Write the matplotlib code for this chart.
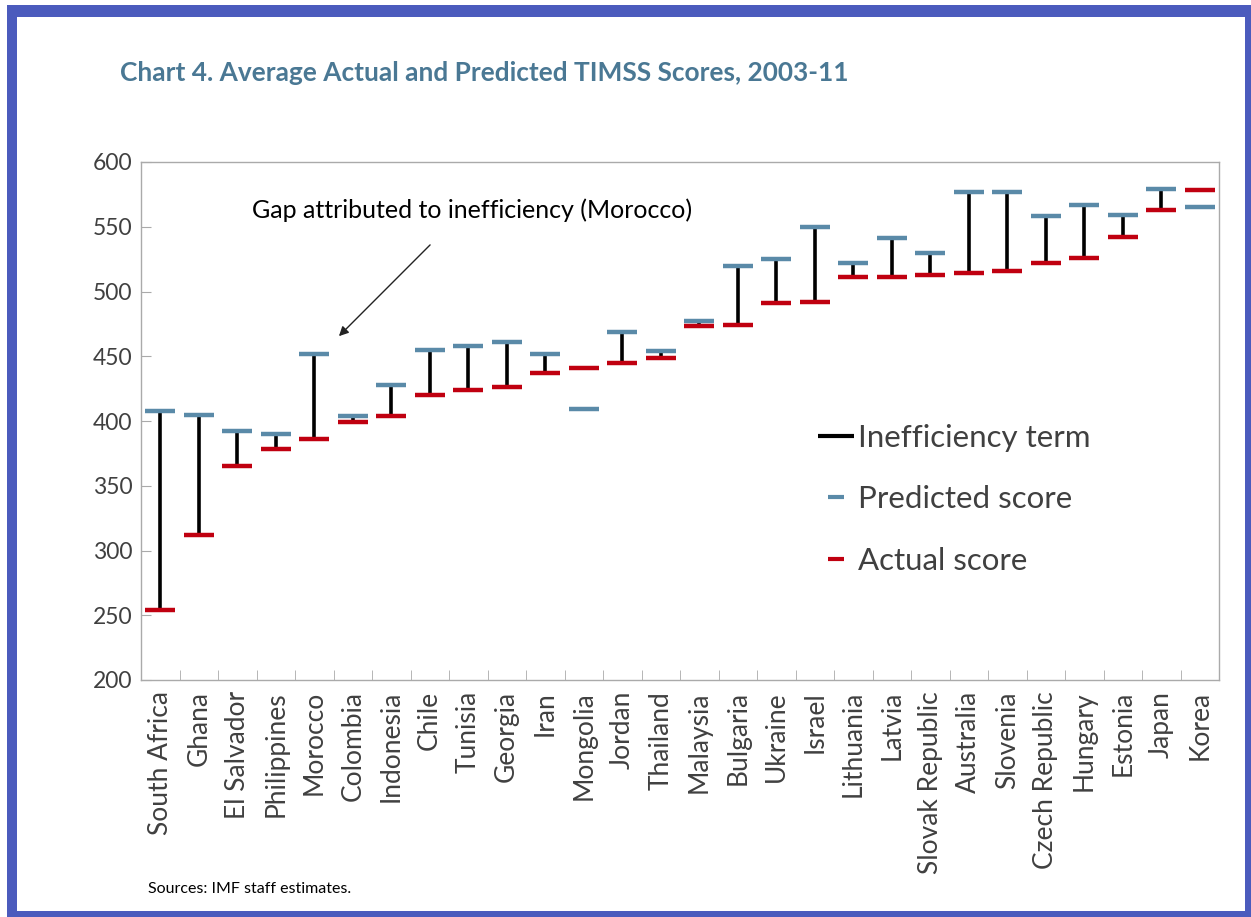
import matplotlib
matplotlib.use("Agg")
import matplotlib.pyplot as plt
from matplotlib.lines import Line2D
from matplotlib.patches import Rectangle
import numpy as np

countries = ["South Africa", "Ghana", "El Salvador", "Philippines", "Morocco",
             "Colombia", "Indonesia", "Chile", "Tunisia", "Georgia", "Iran",
             "Mongolia", "Jordan", "Thailand", "Malaysia", "Bulgaria", "Ukraine",
             "Israel", "Lithuania", "Latvia", "Slovak Republic", "Australia",
             "Slovenia", "Czech Republic", "Hungary", "Estonia", "Japan", "Korea"]
predicted = [408, 405, 392, 390, 452, 404, 428, 455, 458, 461, 452, 409, 469, 454,
             477, 520, 525, 550, 522, 541, 530, 577, 577, 558, 567, 559, 579, 565]
actual = [254, 312, 365, 378, 386, 399, 404, 420, 424, 426, 437, 441, 445, 449,
          473, 474, 491, 492, 511, 511, 513, 514, 516, 522, 526, 542, 563, 578]
yticks = [200, 250, 300, 350, 400, 450, 500, 550, 600]

BLUE = "#5a8aa8"
RED = "#c00010"
TXT = "#404040"

plt.rcParams["font.family"] = ["Lato", "DejaVu Sans"]

fig = plt.figure(figsize=(12.51, 9.17), dpi=100)
W, H = 1251, 917

# blue page border
fig.patches.append(Rectangle((7 / W, 0), 1 - 7 / W, 1 - 5 / H, transform=fig.transFigure,
                             facecolor="#4b5bbd", edgecolor="none", zorder=-10))
fig.patches.append(Rectangle((17 / W, 6 / H), (1245 - 17) / W, (911 - 17) / H,
                             transform=fig.transFigure, facecolor="white",
                             edgecolor="none", zorder=-9))

ax = fig.add_axes([141 / W, 1 - 680 / H, (1219 - 141) / W, (680 - 162) / H])
ax.set_facecolor("none")

x = np.arange(len(countries))
pred = np.array(predicted)
act = np.array(actual)
half = 0.39

gap = pred > act
ax.vlines(x[gap], act[gap], pred[gap], color="black", lw=2.6, zorder=2)
ax.hlines(pred, x - half, x + half, color=BLUE, lw=3.2, zorder=3)
ax.hlines(act, x - half, x + half, color=RED, lw=3.2, zorder=3)

ax.set_xlim(-0.5, len(countries) - 0.5)
ax.set_ylim(200, 600)
ax.set_yticks(yticks)
ax.set_yticklabels([str(v) for v in yticks], fontsize=16.5, color=TXT)
ax.set_xticks(x)
ax.set_xticklabels(countries, rotation=90, fontsize=19, color=TXT)
ax.set_xticks(np.arange(len(countries) + 1) - 0.5, minor=True)
ax.tick_params(axis="x", which="major", length=0, pad=8)
ax.tick_params(axis="x", which="minor", direction="in", length=7, color="#aaaaaa")
ax.tick_params(axis="y", direction="in", length=7, color="#aaaaaa", pad=6)
for s in ax.spines.values():
    s.set_color("#aaaaaa")
    s.set_linewidth(1.0)

# arrow pointing at the Morocco gap
ax.annotate("", xy=(4.59, 464), xytext=(7.06, 537.5),
            arrowprops=dict(arrowstyle="-|>", color="#222222", lw=1.0,
                            mutation_scale=14))
ax.text(8.11, 563, "Gap attributed to inefficiency (Morocco)", fontsize=18,
        color="black", ha="center", va="center")

handles = [
    Line2D([], [], color="black", marker="_", markersize=26, mew=3, ls="none"),
    Line2D([], [], color=BLUE, marker="_", markersize=11, mew=3, ls="none"),
    Line2D([], [], color=RED, marker="_", markersize=11, mew=3, ls="none"),
]
leg = ax.legend(handles, ["Inefficiency term", "Predicted score", "Actual score"],
                loc="upper left", bbox_to_anchor=(805 / W, 1 - 408 / H),
                bbox_transform=fig.transFigure, frameon=False, fontsize=22.5,
                handlelength=1.0, handletextpad=0.2, labelspacing=1.07,
                borderpad=0, labelcolor=TXT)

fig.text(120 / W, 1 - 73 / H, "Chart 4. Average Actual and Predicted TIMSS Scores, 2003-11",
         fontsize=18.9, fontweight="bold", color="#4a7894", ha="left", va="center")
fig.text(148 / W, 1 - 889 / H, "Sources: IMF staff estimates.", fontsize=11.5,
         color="black", ha="left", va="center")

fig.savefig("out.png", dpi=100)
